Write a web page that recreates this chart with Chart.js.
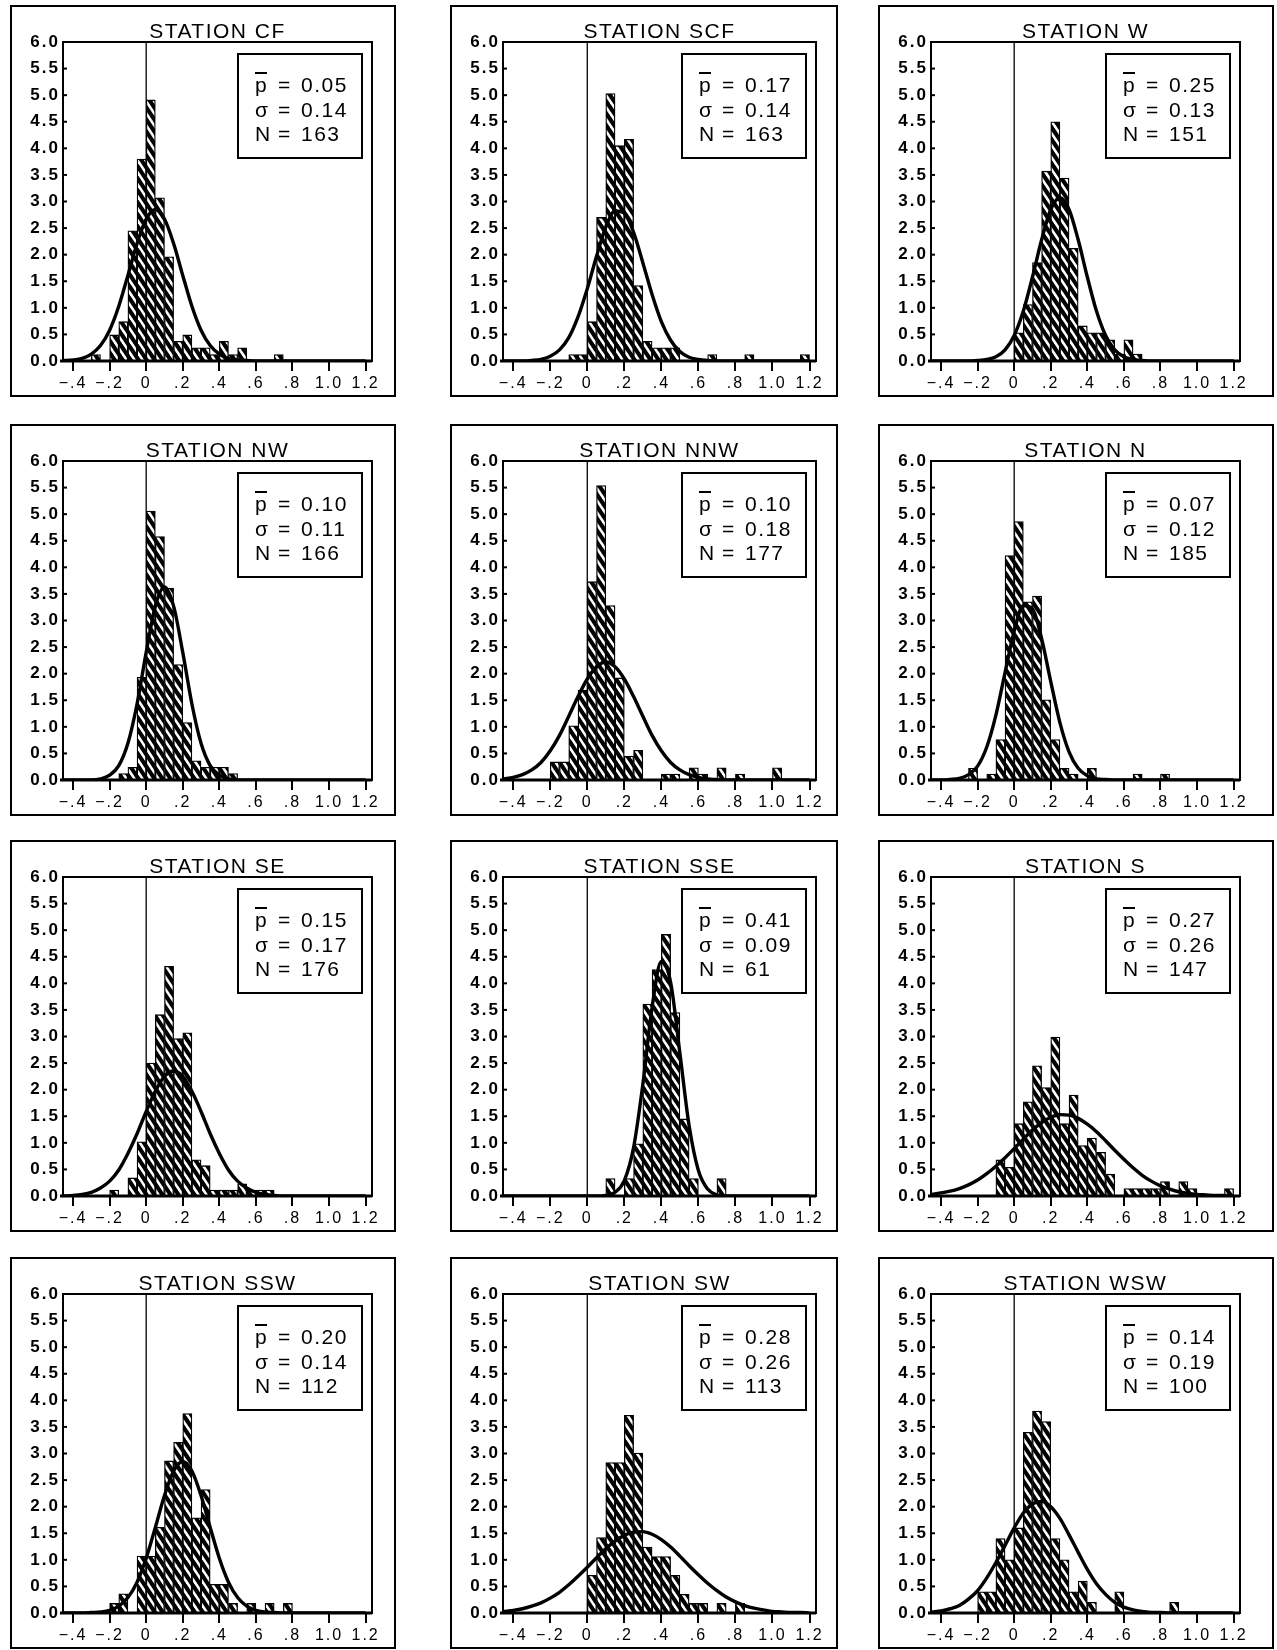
<!DOCTYPE html>
<html>
<head>
<meta charset="utf-8">
<script src="https://cdn.jsdelivr.net/npm/chart.js@4.4.1/dist/chart.umd.min.js"></script>
<style>
  body { margin: 0; background: #fff; }
  #page { position: relative; width: 1277px; height: 1650px; overflow: hidden; background: #fff; }
  #page canvas { position: absolute; }
</style>
</head>
<body>
<div id="page"></div>
<script>
// ---- data ----
const stations = ["CF", "SCF", "W", "NW", "NNW", "N", "SE", "SSE", "S", "SSW", "SW", "WSW"];
const pMean = [0.05, 0.17, 0.25, 0.10, 0.10, 0.07, 0.15, 0.41, 0.27, 0.20, 0.28, 0.14];
const sigma = [0.14, 0.14, 0.13, 0.11, 0.18, 0.12, 0.17, 0.09, 0.26, 0.14, 0.26, 0.19];
const nObs = [163, 163, 151, 166, 177, 185, 176, 61, 147, 112, 113, 100];

// histogram bins, width 0.05, from -0.40 to 1.20 (centres)
const binCenters = [-0.375, -0.325, -0.275, -0.225, -0.175, -0.125, -0.075, -0.025,
  0.025, 0.075, 0.125, 0.175, 0.225, 0.275, 0.325, 0.375, 0.425, 0.475, 0.525, 0.575,
  0.625, 0.675, 0.725, 0.775, 0.825, 0.875, 0.925, 0.975, 1.025, 1.075, 1.125, 1.175];

const barsCF  = [0,0,.12,0,.49,.74,2.45,3.80,4.91,3.07,1.96,.37,.49,.25,.25,.12,.37,.12,.25,0,0,0,.12,0,0,0,0,0,0,0,0,0];
const barsSCF = [0,0,0,0,0,0,.12,.12,.74,2.70,5.03,4.05,4.17,1.42,.37,.25,.25,.25,0,0,0,.12,0,0,0,.12,0,0,0,0,0,.12];
const barsW   = [0,0,0,0,0,0,0,0,.53,1.06,1.85,3.57,4.50,3.44,2.12,.66,.53,.53,.40,.13,.40,.13,0,0,0,0,0,0,0,0,0,0];
const barsNW  = [0,0,0,0,0,.12,.24,1.93,5.06,4.58,3.61,2.17,1.08,.36,.24,.24,.24,.12,0,0,0,0,0,0,0,0,0,0,0,0,0,0];
const barsNNW = [0,0,0,0,.34,.34,1.02,1.69,3.73,5.54,3.28,1.92,.45,.56,0,0,.11,.11,0,.23,.11,0,.23,0,.11,0,0,0,.23,0,0,0];
const barsN   = [0,0,0,.22,0,.11,.76,4.22,4.86,3.35,3.46,1.51,.76,.22,.11,0,.22,0,0,0,0,.11,0,0,.11,0,0,0,0,0,0,0];
const barsSE  = [0,0,0,0,.11,0,.34,1.02,2.50,3.41,4.32,2.96,3.07,.68,.57,.11,.11,.11,.23,.11,.11,.11,0,0,0,0,0,0,0,0,0,0];
const barsSSE = [0,0,0,0,0,0,0,0,0,0,.33,0,.33,.98,3.61,4.26,4.92,3.45,1.45,.33,0,0,.33,0,0,0,0,0,0,0,0,0];
const barsS   = [0,0,0,0,0,0,.68,.54,1.36,1.77,2.45,2.04,2.99,1.36,1.90,.95,1.09,.82,.41,0,.14,.14,.14,.14,.27,0,.27,.14,0,0,0,.14];
const barsSSW = [0,0,0,0,.18,.36,0,1.07,1.07,1.61,2.86,3.21,3.75,1.79,2.32,.54,.54,.18,0,.18,0,.18,0,.18,0,0,0,0,0,0,0,0];
const barsSW  = [0,0,0,0,0,0,0,0,.71,1.42,2.83,2.83,3.72,3.01,1.24,1.06,1.06,.71,.35,.18,.18,0,.18,0,.18,0,0,0,0,0,0,0];
const barsWSW = [0,0,0,0,.40,.40,1.40,1.00,1.60,3.40,3.80,3.60,1.40,1.00,.40,.60,.20,0,0,.40,0,0,0,0,0,.20,0,0,0,0,0,0];

// fitted curve, sampled every 0.05 from -0.45 to 1.20
const curveX = [-0.45, -0.40, -0.35, -0.30, -0.25, -0.20, -0.15, -0.10, -0.05, 0.00, 0.05, 0.10,
  0.15, 0.20, 0.25, 0.30, 0.35, 0.40, 0.45, 0.50, 0.55, 0.60, 0.65, 0.70, 0.75, 0.80, 0.85,
  0.90, 0.95, 1.00, 1.05, 1.10, 1.15, 1.20];

const curveCF  = [.01,.02,.05,.13,.29,.58,1.03,1.61,2.21,2.67,2.85,2.67,2.21,1.61,1.03,.58,.29,.13,.05,.02,.01,0,0,0,0,0,0,0,0,0,0,0,0,0];
const curveSCF = [0,0,0,.01,.03,.09,.21,.44,.83,1.36,1.97,2.52,2.82,2.78,2.42,1.85,1.25,.74,.39,.18,.07,.03,.01,0,0,0,0,0,0,0,0,0,0,0];
const curveW   = [0,0,0,0,0,.01,.03,.08,.21,.48,.94,1.58,2.28,2.85,3.07,2.85,2.28,1.58,.94,.48,.21,.08,.03,.01,0,0,0,0,0,0,0,0,0,0];
const curveNW  = [0,0,0,0,.02,.09,.27,.69,1.43,2.40,3.27,3.63,3.27,2.40,1.43,.69,.27,.09,.02,0,0,0,0,0,0,0,0,0,0,0,0,0,0,0];
const curveNNW = [.02,.05,.10,.19,.33,.55,.84,1.20,1.57,1.90,2.13,2.22,2.13,1.90,1.57,1.20,.84,.55,.33,.19,.10,.05,.02,.01,0,0,0,0,0,0,0,0,0,0];
const curveN   = [0,0,.01,.03,.10,.26,.62,1.22,2.02,2.80,3.28,3.22,2.66,1.85,1.08,.53,.22,.08,.02,.01,0,0,0,0,0,0,0,0,0,0,0,0,0,0];
const curveSE  = [0,.01,.03,.07,.15,.28,.49,.80,1.17,1.59,1.97,2.25,2.35,2.25,1.97,1.59,1.17,.80,.49,.28,.15,.07,.03,.01,0,0,0,0,0,0,0,0,0,0];
const curveSSE = [0,0,0,0,0,0,0,0,0,0,0,.01,.07,.29,.91,2.10,3.55,4.41,4.02,2.69,1.32,.48,.13,.02,0,0,0,0,0,0,0,0,0,0];
const curveS   = [.03,.06,.09,.14,.21,.30,.42,.56,.72,.89,1.07,1.24,1.38,1.48,1.53,1.52,1.46,1.35,1.21,1.04,.86,.69,.53,.39,.28,.19,.13,.08,.05,.03,.02,.01,.01,0];
const curveSSW = [0,0,0,.01,.02,.05,.13,.29,.58,1.03,1.61,2.21,2.67,2.85,2.67,2.21,1.61,1.03,.58,.29,.13,.05,.02,.01,0,0,0,0,0,0,0,0,0,0];
const curveSW  = [.03,.05,.08,.13,.19,.28,.39,.53,.69,.86,1.04,1.21,1.35,1.46,1.52,1.53,1.48,1.38,1.24,1.07,.89,.72,.56,.42,.30,.21,.14,.09,.06,.03,.02,.01,.01,0];
const curveWSW = [.02,.04,.08,.14,.26,.42,.66,.95,1.27,1.60,1.88,2.05,2.10,2.00,1.78,1.47,1.14,.82,.55,.35,.20,.11,.06,.03,.01,.01,0,0,0,0,0,0,0,0];

const xTickValues = [-0.4, -0.2, 0, 0.2, 0.4, 0.6, 0.8, 1.0, 1.2];
const xTickLabels = ["\u2212.4", "\u2212.2", "0", ".2", ".4", ".6", ".8", "1.0", "1.2"];

const allBars = [barsCF, barsSCF, barsW, barsNW, barsNNW, barsN, barsSE, barsSSE, barsS, barsSSW, barsSW, barsWSW];
const allCurves = [curveCF, curveSCF, curveW, curveNW, curveNNW, curveN, curveSE, curveSSE, curveS, curveSSW, curveSW, curveWSW];

// ---- layout ----
const colLeft = [10, 450, 878];
const colWidth = [386, 388, 396];
const colRightPad = [24, 22, 34];
const rowTop = [5, 424, 840, 1257];
const boxHeight = 392;
const FONT = "'Liberation Sans', Arial, sans-serif";

Chart.defaults.font.family = FONT;
Chart.defaults.color = "#000";

/* hatch fill: black with white diagonal strokes */
function makeHatch() {
  const w = 8, h = 12;
  const c = document.createElement("canvas");
  c.width = w; c.height = h;
  const g = c.getContext("2d");
  g.fillStyle = "#000";
  g.fillRect(0, 0, w, h);
  g.strokeStyle = "#fff";
  g.lineWidth = 2.6;
  for (let k = -1; k <= 1; k++) {
    g.beginPath();
    g.moveTo(k * w - w, -h);
    g.lineTo(k * w + 2 * w, 2 * h);
    g.stroke();
  }
  return g.createPattern(c, "repeat");
}

const panelPlugin = {
  id: "panel",
  beforeDraw(chart) {
    // the old typeset labels are widely spaced
    chart.ctx.letterSpacing = "2px";
  },
  beforeDatasetsDraw(chart) {
    const { ctx, chartArea: a, scales: { x } } = chart;
    const x0 = x.getPixelForValue(0);
    ctx.save();
    ctx.strokeStyle = "#000";
    ctx.lineWidth = 1.3;
    ctx.beginPath();
    ctx.moveTo(x0, a.top);
    ctx.lineTo(x0, a.bottom);
    ctx.stroke();
    ctx.restore();
  },
  afterDraw(chart, args, opts) {
    const { ctx, chartArea: a, scales: { y }, width, height } = chart;
    ctx.save();
    ctx.strokeStyle = "#000";
    ctx.fillStyle = "#000";

    // outer frame + plot frame
    ctx.lineWidth = 2;
    ctx.strokeRect(1, 1, width - 2, height - 2);
    ctx.strokeRect(a.left, a.top, a.right - a.left, a.bottom - a.top);
    ctx.lineWidth = 3;
    ctx.beginPath();
    ctx.moveTo(a.left - 3, a.bottom);
    ctx.lineTo(a.right, a.bottom);
    ctx.stroke();

    // small inward y ticks
    ctx.lineWidth = 2;
    y.ticks.forEach(t => {
      const py = y.getPixelForValue(t.value);
      ctx.beginPath();
      ctx.moveTo(a.left, py);
      ctx.lineTo(a.left + 4, py);
      ctx.stroke();
    });

    // title
    ctx.letterSpacing = "1.5px";
    ctx.font = "21px " + FONT;
    ctx.textAlign = "center";
    ctx.textBaseline = "alphabetic";
    ctx.fillText("STATION " + opts.name, (a.left + a.right) / 2, a.top - 4);

    // stats box
    const bw = 124, bh = 104;
    const bx = a.right - 10 - bw, by = a.top + 12;
    ctx.lineWidth = 2;
    ctx.strokeRect(bx, by, bw, bh);
    ctx.textAlign = "left";
    ctx.font = "21px " + FONT;
    const rows = [["p", opts.p.toFixed(2)], ["\u03c3", opts.s.toFixed(2)], ["N", String(opts.n)]];
    rows.forEach((r, i) => {
      const base = by + 38 + i * 24.5;
      ctx.fillText(r[0], bx + 17, base);
      ctx.fillText("=", bx + 40, base);
      ctx.fillText(r[1], bx + 63, base);
    });
    // bar over the p
    ctx.beginPath();
    ctx.moveTo(bx + 17, by + 19);
    ctx.lineTo(bx + 29, by + 19);
    ctx.stroke();
    ctx.restore();
    ctx.letterSpacing = "0px";
  }
};

const hatch = makeHatch();
const page = document.getElementById("page");

stations.forEach((name, i) => {
  const col = i % 3, row = Math.floor(i / 3);
  const canvas = document.createElement("canvas");
  canvas.width = colWidth[col];
  canvas.height = boxHeight;
  canvas.style.left = colLeft[col] + "px";
  canvas.style.top = rowTop[row] + "px";
  canvas.style.width = colWidth[col] + "px";
  canvas.style.height = boxHeight + "px";
  page.appendChild(canvas);

  const bars = allBars[i];
  const curve = allCurves[i];

  new Chart(canvas, {
    type: "bar",
    data: {
      datasets: [
        {
          type: "line",
          data: curveX.map((x, k) => ({ x: x, y: curve[k] })),
          borderColor: "#000",
          borderWidth: 3.4,
          pointRadius: 0,
          fill: false,
          cubicInterpolationMode: "monotone",
          order: 0
        },
        {
          type: "bar",
          data: binCenters.map((x, k) => ({ x: x, y: bars[k] > 0 ? bars[k] : null })),
          backgroundColor: hatch,
          borderColor: "#000",
          borderWidth: 1.3,
          borderSkipped: "bottom",
          barPercentage: 1,
          categoryPercentage: 1,
          order: 1
        }
      ]
    },
    options: {
      responsive: false,
      animation: false,
      devicePixelRatio: 1,
      events: [],
      layout: { padding: { top: 37, right: colRightPad[col], left: 0, bottom: 0 } },
      plugins: {
        legend: { display: false },
        tooltip: { enabled: false },
        title: { display: false },
        panel: { name: name, p: pMean[i], s: sigma[i], n: nObs[i] }
      },
      scales: {
        x: {
          type: "linear",
          min: -0.455,
          max: 1.235,
          offset: false,
          grid: { display: true, offset: false, drawOnChartArea: false, drawTicks: true, tickLength: 10, color: "#000", lineWidth: 2 },
          border: { display: false },
          afterBuildTicks: axis => { axis.ticks = xTickValues.map(v => ({ value: v })); },
          afterFit: axis => { axis.height = 36; },
          ticks: {
            autoSkip: false,
            maxRotation: 0,
            padding: 3,
            color: "#000",
            font: { family: FONT, size: 16 },
            callback: (v, k) => xTickLabels[k]
          }
        },
        y: {
          min: 0,
          max: 6,
          grid: { display: false, drawTicks: false },
          border: { display: false },
          afterFit: axis => { axis.width = 53; },
          ticks: {
            stepSize: 0.5,
            padding: 3,
            color: "#000",
            font: { family: FONT, size: 17, weight: "bold" },
            callback: v => v.toFixed(1)
          }
        }
      }
    },
    plugins: [panelPlugin]
  });
});
</script>
</body>
</html>
